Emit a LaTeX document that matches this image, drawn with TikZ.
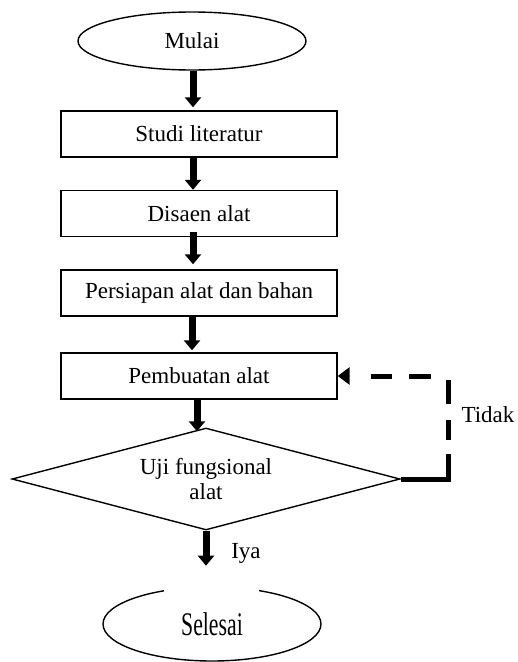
\documentclass[tikz,border=0pt]{standalone}
\usepackage{fontspec}
\setmainfont{Liberation Serif}
\usetikzlibrary{arrows.meta,shapes.geometric,calc}
\begin{document}
\begin{tikzpicture}[x=1pt,y=-1pt,
  txt/.style={font=\fontsize{23}{25}\selectfont},
  box/.style={txt,draw,line width=1.4pt,minimum width=276pt,minimum height=46pt,inner sep=0pt},
  term/.style={txt,draw,ellipse,line width=1.4pt,inner sep=0pt},
  dec/.style={txt,draw,diamond,line width=1.4pt,aspect=3.8,minimum width=388pt,minimum height=102pt,inner sep=0pt,align=center},
  arr/.style={line width=7pt,-{Triangle[width=16pt,length=10pt]}},
  backarr/.style={line width=5pt,-{Triangle[width=17pt,length=12pt]},
    dash pattern=on 72pt off 14pt on 20pt off 16pt on 24pt off 21pt on 22pt off 17pt on 21pt off 40pt}
]
\useasboundingbox (0,0) rectangle (518,662);
\node[term,minimum width=228pt,minimum height=58pt] (mulai) at (192,41) {Mulai};
\node[box] (studi) at (199,134) {Studi literatur};
\node[box] (disaen) at (199,213.5) {Disaen alat};
\node[box] (persiapan) at (199,293) {Persiapan alat dan bahan};
\node[box] (pembuatan) at (199,376) {Pembuatan alat};
\node[dec] (uji) at (206,479) {Uji fungsional\\alat};
\node[term,minimum width=218pt,minimum height=74pt] (selesai) at (212,624) {\scalebox{0.66}[1]{\fontsize{33}{33}\selectfont Selesai}};
\fill[white] (164,583) rectangle (259,592);
\node[txt] (tidak) at (488,415) {Tidak};
\node[txt] (iya) at (246,553) {Iya};
\coordinate (corner) at (448,376);

\draw[arr] ([xshift=1pt]mulai.south) -- ($(studi.north)+(-6,-3)$);
\draw[arr] ([xshift=-6pt]studi.south) -- ($(disaen.north)+(-6,0)$);
\draw[arr] ($(disaen.south)+(-6,-5)$) -- ($(persiapan.north)+(-6,-5)$);
\draw[arr] ([xshift=-7pt]persiapan.south) -- ($(pembuatan.north)+(-7,-2)$);
\draw[arr] ([xshift=-2pt]pembuatan.south) -- ($(pembuatan.south |- uji.north)+(-2,4)$);
\draw[arr] (uji.south) -- ($(uji.south)+(0,35)$);
\draw[backarr] (uji.east) -- (uji.east -| corner) -- (corner) -- (pembuatan.east);
\end{tikzpicture}
\end{document}
